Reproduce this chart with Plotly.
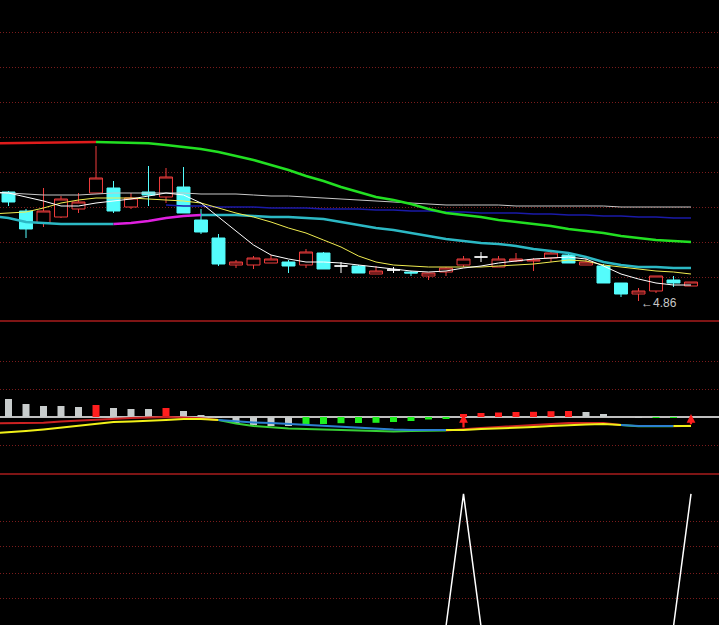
import plotly.graph_objects as go
from plotly.subplots import make_subplots

# ---------------- data ----------------
IDX = list(range(40))            # candle index
LINE_IDX = list(range(-1, 40))   # moving averages start one bar before the first visible candle

OPEN = [5.95, 5.76, 5.64, 5.70, 5.78, 5.94, 5.99, 5.80, 5.95, 5.90,
        6.00, 5.67, 5.49, 5.22, 5.22, 5.24, 5.25, 5.22, 5.34, 5.21,
        5.21, 5.13, 5.17, 5.15, 5.11, 5.15, 5.22, 5.30, 5.20, 5.26,
        5.26, 5.29, 5.32, 5.22, 5.21, 5.04, 4.93, 4.96, 5.07, 5.01]
HIGH = [5.96, 5.78, 5.99, 5.91, 5.94, 6.41, 6.06, 5.94, 6.21, 6.19,
        6.20, 5.78, 5.53, 5.27, 5.31, 5.32, 5.27, 5.38, 5.35, 5.25,
        5.22, 5.21, 5.20, 5.16, 5.14, 5.20, 5.31, 5.35, 5.31, 5.34,
        5.29, 5.36, 5.35, 5.29, 5.23, 5.04, 4.99, 5.11, 5.11, 5.05]
LOW = [5.81, 5.49, 5.60, 5.69, 5.74, 5.94, 5.74, 5.78, 5.81, 5.84,
       5.74, 5.53, 5.21, 5.19, 5.18, 5.24, 5.14, 5.19, 5.18, 5.14,
       5.14, 5.13, 5.14, 5.11, 5.07, 5.11, 5.20, 5.25, 5.20, 5.25,
       5.16, 5.25, 5.24, 5.22, 5.04, 4.90, 4.86, 4.94, 5.00, 5.01]
CLOSE = [5.85, 5.58, 5.76, 5.88, 5.85, 6.09, 5.76, 5.89, 5.92, 6.10,
         5.74, 5.55, 5.23, 5.25, 5.29, 5.28, 5.21, 5.35, 5.18, 5.21,
         5.14, 5.16, 5.17, 5.14, 5.14, 5.19, 5.28, 5.30, 5.28, 5.28,
         5.27, 5.34, 5.24, 5.25, 5.04, 4.93, 4.96, 5.11, 5.04, 5.05]

MA_LONG = [6.435, 6.437, 6.44, 6.442, 6.445, 6.447, 6.45, 6.447, 6.443, 6.437,
           6.42, 6.40, 6.38, 6.35, 6.31, 6.27, 6.22, 6.17, 6.11, 6.06,
           6.00, 5.95, 5.90, 5.87, 5.83, 5.78, 5.74, 5.72, 5.70, 5.67,
           5.65, 5.63, 5.61, 5.58, 5.56, 5.54, 5.51, 5.49, 5.47, 5.46, 5.45]
MA_GRAY = [5.94, 5.94, 5.93, 5.92, 5.92, 5.92, 5.93, 5.94, 5.94, 5.94,
           5.94, 5.94, 5.93, 5.93, 5.93, 5.92, 5.91, 5.91, 5.90, 5.89,
           5.88, 5.87, 5.86, 5.85, 5.84, 5.83, 5.82, 5.82, 5.82, 5.82,
           5.81, 5.81, 5.81, 5.81, 5.81, 5.81, 5.80, 5.80, 5.80, 5.80, 5.80]
MA_NAVY = [None] * 10 + [5.82, 5.81, 5.81, 5.80, 5.80, 5.80, 5.79, 5.79, 5.79, 5.78,
                         5.78, 5.78, 5.77, 5.77, 5.76, 5.76, 5.75, 5.75, 5.74, 5.74,
                         5.74, 5.73, 5.73, 5.72, 5.72, 5.71, 5.71, 5.70, 5.70, 5.69, 5.69]
MA_TEAL = [5.71, 5.69, 5.65, 5.64, 5.63, 5.63, 5.63, 5.63, 5.64, 5.66,
           5.69, 5.71, 5.72, 5.72, 5.72, 5.71, 5.70, 5.70, 5.69, 5.68,
           5.65, 5.62, 5.59, 5.57, 5.54, 5.51, 5.48, 5.46, 5.44, 5.43,
           5.41, 5.38, 5.36, 5.34, 5.30, 5.25, 5.22, 5.20, 5.20, 5.19, 5.19]
MA_YELLOW = [5.73, 5.74, 5.75, 5.79, 5.84, 5.87, 5.89, 5.89, 5.89, 5.88,
             5.87, 5.86, 5.84, 5.79, 5.74, 5.70, 5.65, 5.59, 5.54, 5.47,
             5.40, 5.31, 5.25, 5.22, 5.21, 5.20, 5.20, 5.20, 5.20, 5.21,
             5.22, 5.23, 5.25, 5.27, 5.26, 5.22, 5.20, 5.18, 5.16, 5.15, 5.13]
MA_WHITE = [5.95, 5.94, 5.90, 5.86, 5.81, 5.81, 5.84, 5.86, 5.88, 5.91,
            5.94, 5.92, 5.84, 5.70, 5.56, 5.42, 5.32, 5.28, 5.25, 5.25,
            5.24, 5.22, 5.20, 5.18, 5.16, 5.15, 5.16, 5.19, 5.21, 5.24,
            5.26, 5.28, 5.29, 5.30, 5.28, 5.21, 5.13, 5.08, 5.04, 5.02, 5.02]

MACD_HIST = [0.18, 0.13, 0.11, 0.11, 0.10, 0.12, 0.09, 0.08, 0.08, 0.09,
             0.06, 0.02, -0.005, -0.06, -0.08, -0.09, -0.09, -0.075, -0.07, -0.062,
             -0.06, -0.058, -0.05, -0.04, -0.025, -0.02, 0.03, 0.04, 0.045, 0.05,
             0.052, 0.058, 0.06, 0.05, 0.03, 0.0, -0.01, -0.005, -0.004, 0.0]
DIF = [-0.063, -0.063, -0.06, -0.057, -0.045, -0.035, -0.025, -0.015, -0.01, -0.005,
       0.0, -0.005, -0.013, -0.03, -0.065, -0.09, -0.105, -0.115, -0.12, -0.125,
       -0.135, -0.14, -0.145, -0.145, -0.14, -0.14, -0.135, -0.12, -0.11, -0.10,
       -0.09, -0.075, -0.065, -0.06, -0.06, -0.06, -0.08, -0.093, -0.092, -0.092, -0.088]
DEA = [-0.165, -0.155, -0.14, -0.125, -0.105, -0.085, -0.065, -0.05, -0.045, -0.04,
       -0.03, -0.02, -0.02, -0.03, -0.045, -0.055, -0.06, -0.07, -0.08, -0.09,
       -0.10, -0.11, -0.12, -0.125, -0.13, -0.13, -0.13, -0.13, -0.12, -0.115,
       -0.11, -0.10, -0.09, -0.08, -0.075, -0.07, -0.08, -0.09, -0.09, -0.09, -0.09]

SIGNAL = [0] * 26 + [1] + [0] * 12 + [1]

PRICE_GRID = [5.10, 5.45, 5.80, 6.15, 6.50, 6.85, 7.20, 7.55]
MACD_GRID = [-0.28, 0.28, 0.56]
SIGNAL_GRID = [0.21, 0.40, 0.60, 0.79]

# ---------------- styles ----------------
RED = "#f03c3c"
CYAN = "#54fcfc"
GRID = "#7a1c1c"
BORDER = "#a81c1c"
ARROW_TIP = 0.03

fig = make_subplots(rows=3, cols=1, shared_xaxes=True, vertical_spacing=0)


def add_colored(xs, ys, cond, c_true, c_false, width, row):
    """Split a line into runs; segment k-1 -> k takes the colour of cond[k]."""
    n = len(xs)
    k = 1
    while k < n:
        c = cond[k]
        j = k
        while j + 1 < n and cond[j + 1] == c:
            j += 1
        fig.add_trace(go.Scatter(x=xs[k - 1:j + 1], y=ys[k - 1:j + 1], mode="lines",
                                 line=dict(color=c_true if c else c_false, width=width),
                                 hoverinfo="skip", showlegend=False), row=row, col=1)
        k = j + 1


# ---- candles ----
groups = {
    "up": ([i for i in IDX if CLOSE[i] > OPEN[i]], RED, "#000000"),
    "down": ([i for i in IDX if CLOSE[i] < OPEN[i]], CYAN, CYAN),
    "doji": ([i for i in IDX if CLOSE[i] == OPEN[i]], "#ffffff", "#ffffff"),
}
for name, (ids, lc, fc) in groups.items():
    fig.add_trace(go.Candlestick(
        x=ids, open=[OPEN[i] for i in ids], high=[HIGH[i] for i in ids],
        low=[LOW[i] for i in ids], close=[CLOSE[i] for i in ids],
        increasing=dict(line=dict(color=lc, width=1), fillcolor=fc),
        decreasing=dict(line=dict(color=lc, width=1), fillcolor=fc),
        hoverinfo="skip", showlegend=False), row=1, col=1)

# ---- moving averages ----
fig.add_trace(go.Scatter(x=LINE_IDX, y=MA_GRAY, mode="lines",
                         line=dict(color="#c8c8c8", width=1), hoverinfo="skip"), row=1, col=1)
fig.add_trace(go.Scatter(x=LINE_IDX, y=MA_NAVY, mode="lines",
                         line=dict(color="#1a1aa8", width=1.5), hoverinfo="skip"), row=1, col=1)
rising_long = [False] + [MA_LONG[k] > MA_LONG[k - 1] for k in range(1, len(MA_LONG))]
add_colored(LINE_IDX, MA_LONG, rising_long, "#e01c1c", "#22e022", 2.5, 1)
rising_teal = [False] + [MA_TEAL[k] > MA_TEAL[k - 1] for k in range(1, len(MA_TEAL))]
add_colored(LINE_IDX, MA_TEAL, rising_teal, "#e020e0", "#2cb8c4", 2.5, 1)
fig.add_trace(go.Scatter(x=LINE_IDX, y=MA_YELLOW, mode="lines",
                         line=dict(color="#f0ec50", width=1), hoverinfo="skip"), row=1, col=1)
fig.add_trace(go.Scatter(x=LINE_IDX, y=MA_WHITE, mode="lines",
                         line=dict(color="#ffffff", width=1), hoverinfo="skip"), row=1, col=1)

# lowest low marker
low_i = min(IDX, key=lambda i: LOW[i])
fig.add_annotation(x=low_i, y=LOW[low_i], xref="x", yref="y", text="\u2190" + f"{LOW[low_i]:.2f}",
                   showarrow=False, xanchor="left", yanchor="middle", yshift=-2,
                   font=dict(family="Liberation Sans, Arial, sans-serif", size=12, color="#c8c8c8"))

# ---- MACD panel ----
bar_colors = []
for i, v in enumerate(MACD_HIST):
    prev = MACD_HIST[i - 1] if i > 0 else None
    if prev is not None and v > prev and v > 0:
        bar_colors.append("#ff1e1e")
    elif prev is not None and v > prev and v < 0:
        bar_colors.append("#1ef01e")
    else:
        bar_colors.append("#c8cccc")
fig.add_trace(go.Bar(x=IDX, y=MACD_HIST, width=0.4, marker=dict(color=bar_colors, line=dict(width=0)),
                     hoverinfo="skip", showlegend=False), row=2, col=1)

bull = [DIF[k] >= DEA[k] for k in range(len(DIF))]
add_colored(LINE_IDX, DIF, bull, "#cc2222", "#36d036", 2, 2)
add_colored(LINE_IDX, DEA, bull, "#f0f018", "#2c80d0", 2, 2)

for k in range(1, len(DIF)):
    if bull[k] and not bull[k - 1]:
        xi = LINE_IDX[k]
        fig.add_annotation(x=xi, y=ARROW_TIP, xref="x2", yref="y2",
                           ax=xi, ay=DIF[k], axref="x2", ayref="y2", text="",
                           showarrow=True, arrowhead=2, arrowsize=0.8, arrowwidth=2.2,
                           arrowcolor="#ff1e1e", standoff=0, startstandoff=0)

# ---- signal panel ----
fig.add_trace(go.Scatter(x=IDX, y=SIGNAL, mode="lines", line=dict(color="#ffffff", width=1.5),
                         hoverinfo="skip", showlegend=False), row=3, col=1)

# ---------------- layout ----------------
fig.update_layout(width=719, height=625, margin=dict(l=0, r=0, t=0, b=0),
                  paper_bgcolor="#000000", plot_bgcolor="#000000", showlegend=False,
                  boxgap=0.26, boxgroupgap=0, hovermode=False)
fig.update_xaxes(range=[-0.486, 40.6], visible=False, rangeslider_visible=False)

yaxis_common = dict(showticklabels=False, ticks="", showgrid=True, gridcolor=GRID,
                    griddash="1px,2px", gridwidth=1, zeroline=False, showline=False)
fig.update_layout(
    yaxis=dict(domain=[0.4864, 1.0], range=[4.66, 7.87], tickvals=PRICE_GRID, **yaxis_common),
    yaxis2=dict(domain=[0.2416, 0.4864], range=[-0.57, 0.96], tickvals=MACD_GRID, **yaxis_common),
    yaxis3=dict(domain=[0.0, 0.2416], range=[0.01, 1.15], tickvals=SIGNAL_GRID, **yaxis_common),
)

fig.add_shape(type="line", xref="paper", x0=0, x1=1, yref="y2", y0=0, y1=0,
              line=dict(color="#ffffff", width=1.5), layer="below")
fig.add_shape(type="line", xref="paper", x0=0, x1=1, yref="y2 domain", y0=1, y1=1,
              line=dict(color=BORDER, width=1.5), layer="below")
fig.add_shape(type="line", xref="paper", x0=0, x1=1, yref="y3 domain", y0=1, y1=1,
              line=dict(color=BORDER, width=1.5), layer="below")

fig.write_html("out.html", config={"displayModeBar": False},
               post_script="document.body.style.margin='0';document.body.style.padding='0';"
                           "document.body.style.background='#000';document.body.style.overflow='hidden';")
